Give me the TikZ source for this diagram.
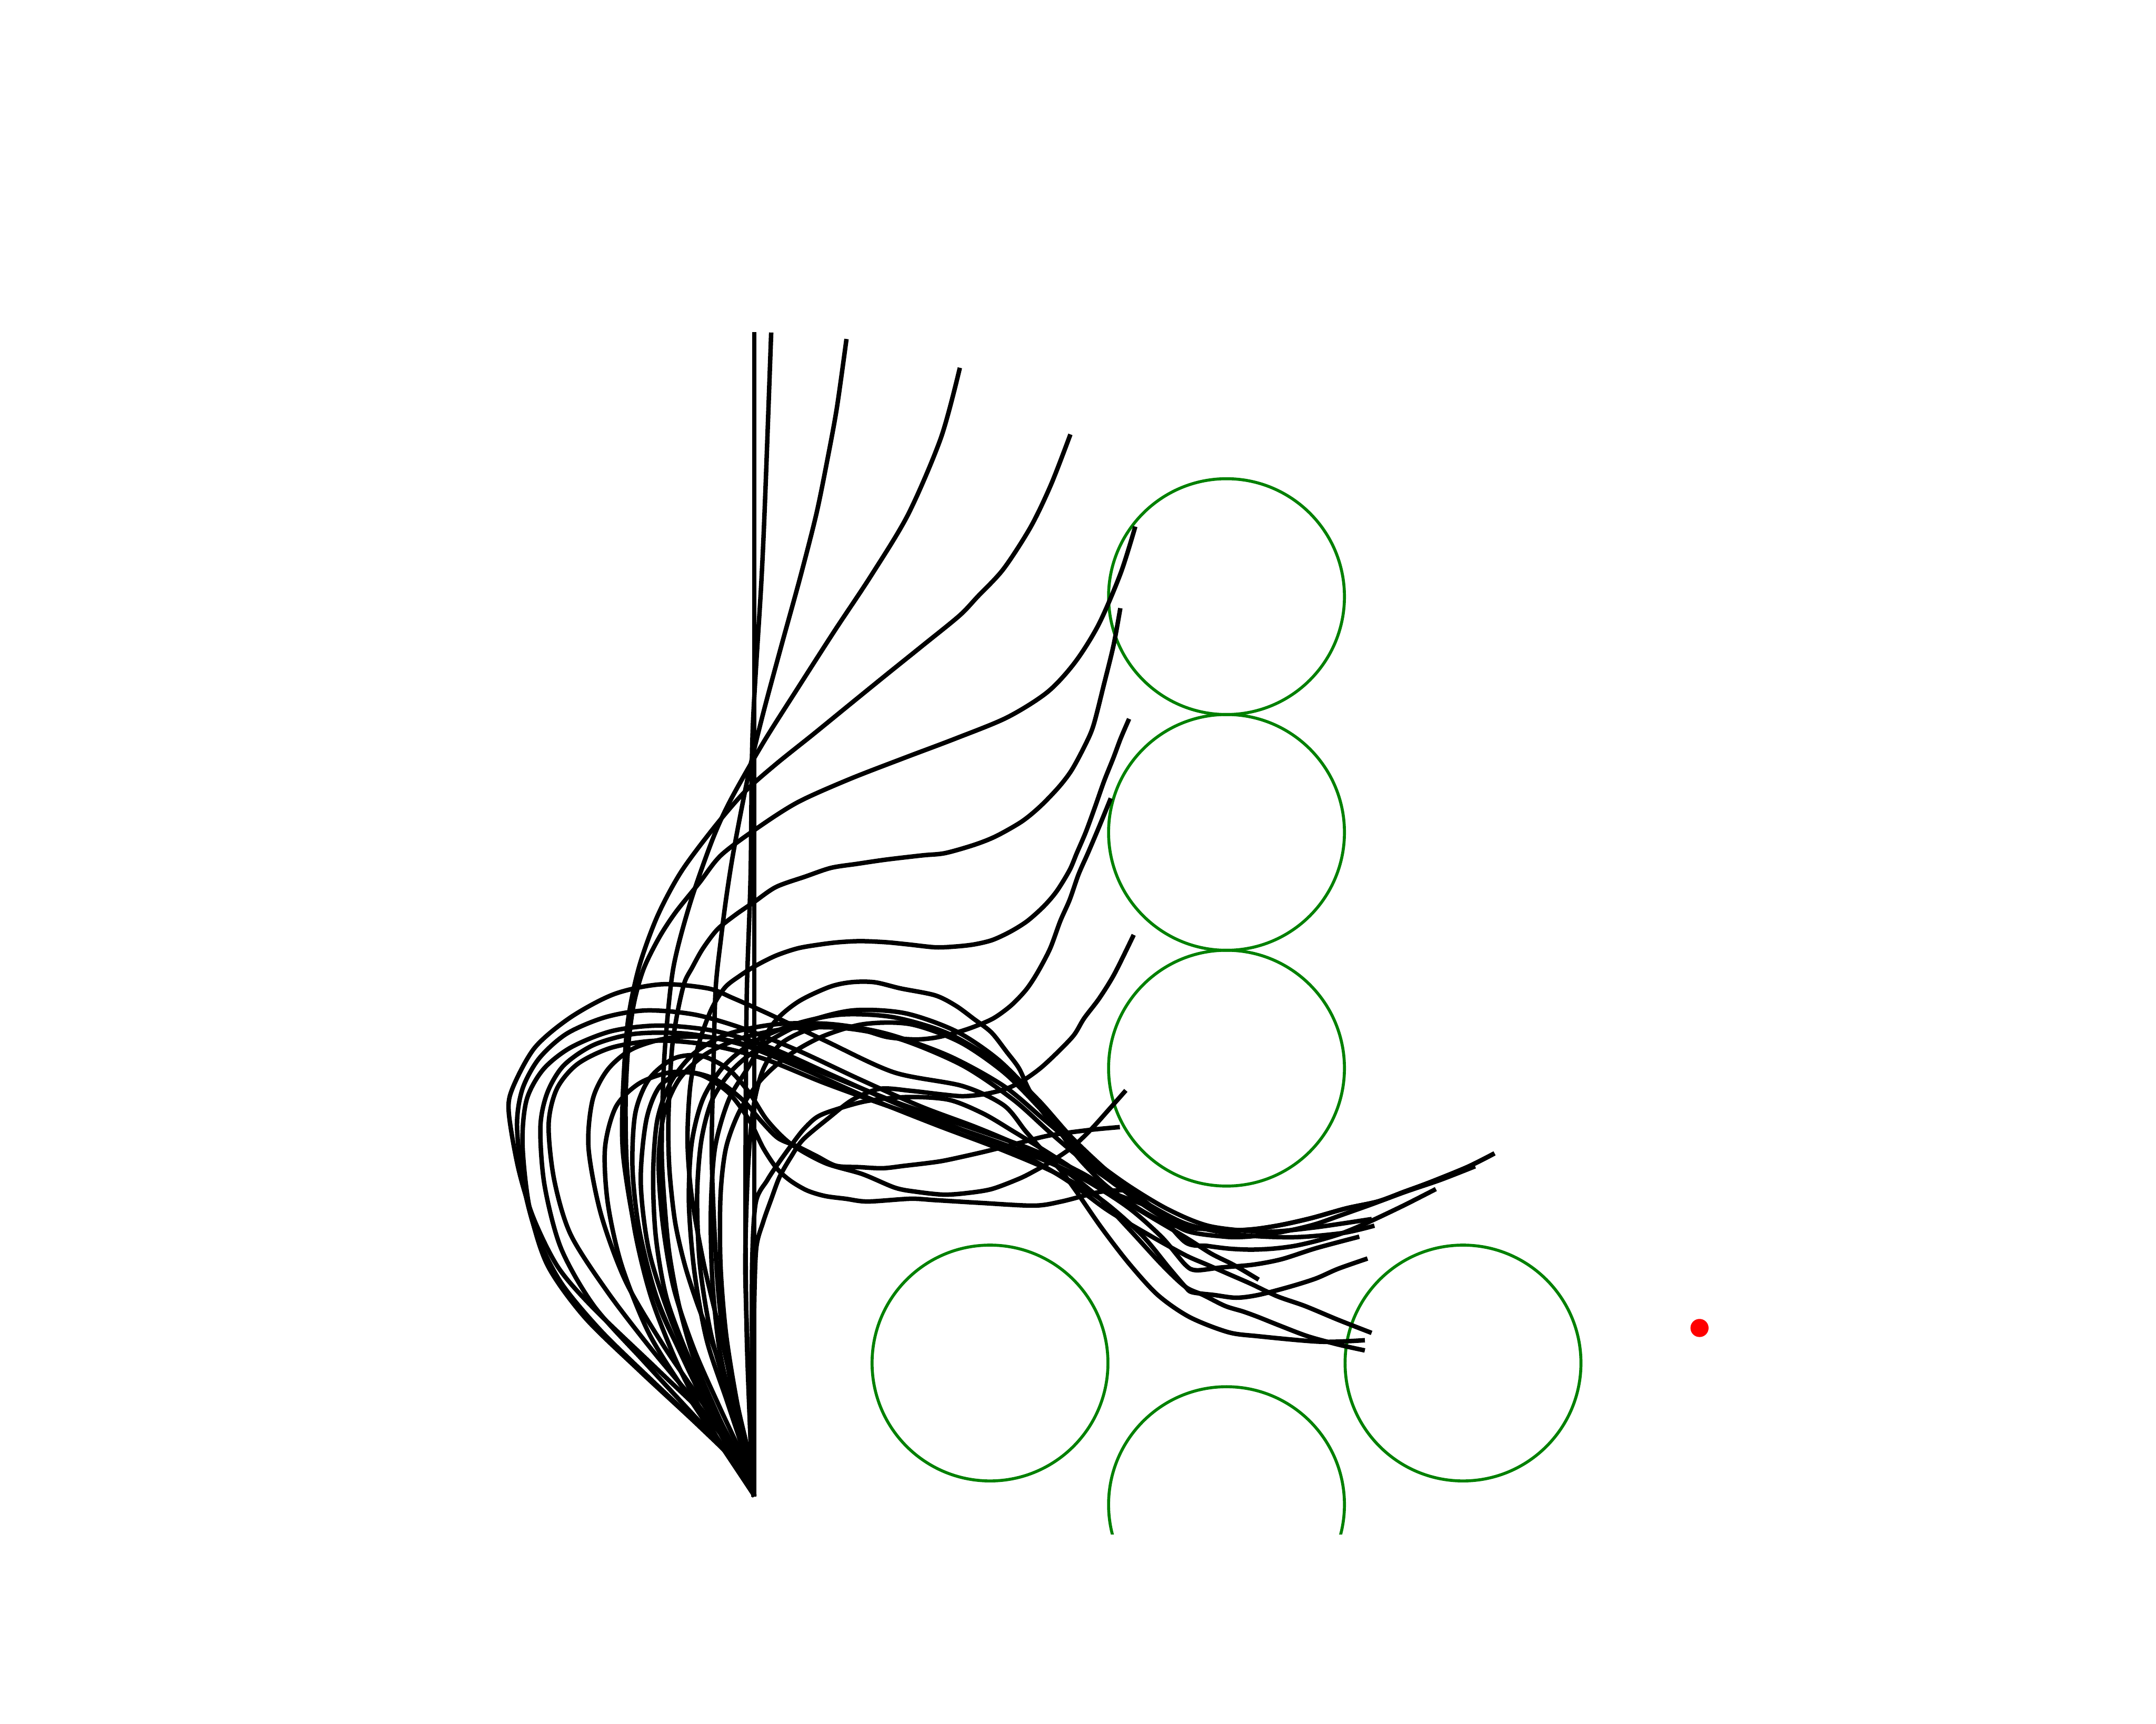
\documentclass[tikz,border=0pt]{standalone}
\usepackage{tikz}
\definecolor{mplgreen}{RGB}{0,128,0}
\definecolor{mplred}{RGB}{255,0,0}
\begin{document}
\begin{tikzpicture}[x=0.024298cm,y=-0.024298cm,
  traj/.style={draw=black,line width=2.25pt,line cap=rect,line join=round},
  obst/.style={draw=mplgreen,line width=1.5pt}]
\useasboundingbox[fill=white] (0,0) rectangle (1568,1254);
\begin{scope}
\clip (196,150.5) rectangle (1411,1116);
% obstacles
\foreach \cx/\cy in {892/434,892/605.5,892/777,720/991.5,1064/991.5,892/1094.5}
  \draw[obst] (\cx,\cy) circle[radius=2.0836cm];
% upper fan
\draw[traj] (548.6,243) -- (548.6,1087);
\draw[traj] plot[smooth] coordinates {(560.8,243.5) (556.6,358.5) (553.7,423.3) (547.4,531.2) (545.9,636.1) (543.2,718.6) (542.4,795.7) (542.2,899.2) (543.2,976.5) (546.4,1060) (548,1087)};
\draw[traj] plot[smooth] coordinates {(615.4,248.2) (608.6,296.8) (601.8,334) (593.7,373.9) (581.9,420.2) (568.3,469.6) (555,519) (544.6,562.1) (533.8,617.5) (528.4,651.4) (524.4,682.3) (520.5,718.6) (519,770) (517.6,837.2) (519.8,899.2) (523.4,950.6) (530.7,1002.4) (539.8,1054.1) (548,1087)};
\draw[traj] plot[smooth] coordinates {(697.7,269.1) (684.3,318.5) (660.6,373.9) (633.6,418.6) (607,458.8) (580.3,500.4) (555,540.4) (531.2,582.2) (517.9,611.4) (501.7,657.7) (489.7,704) (484,757) (482,795.6) (481.3,839.5) (483.1,873.2) (486.8,911.9) (494.1,950.8) (505.1,989.5) (521.6,1028.2) (538.1,1064.2) (548,1087)};
\draw[traj] plot[smooth] coordinates {(777.9,317.5) (764.5,352.2) (749.7,383.1) (729.8,413.9) (711,434) (697.7,447.9) (671,469.6) (644.4,491) (617.7,512.7) (591.1,534.4) (564.4,555.8) (541.7,575.9) (519.2,602.1) (495.2,634.4) (477.9,666.9) (464.6,704) (456.5,744.2) (452.8,800.9) (453.4,842.2) (463,899.2) (479.5,950.6) (494.1,981.7) (512.4,1015.4) (530.7,1048.9) (548,1087)};
\draw[traj] plot[smooth] coordinates {(825.2,384.6) (815,417) (799.1,454.1) (781.8,481.8) (761.7,503.5) (732.4,521.9) (695,537.2) (657.7,551.3) (617.7,566.8) (580.3,583.5) (551.1,602.1) (524.4,622.1) (508.5,642.3) (491.3,663.7) (479.2,682.3) (468,705) (461,730) (457,760) (455,800) (456,850) (462,897) (474,945) (494,995) (518,1040) (548,1087)};
% right-upper endings
\draw[traj] plot[smooth] coordinates {(814.5,444) (809.8,469.6) (803,497.3) (795.1,528.1) (788.4,543.5) (779.2,560.5) (769.8,572.8) (756.5,586.6) (743.1,597.6) (724.3,608.3) (708.4,614.6) (687.2,620.6) (671,622.2) (644.4,625.3) (623.2,628.4) (604.4,631.3) (585.8,637.6) (564.4,645.2) (548.5,656.1) (535.1,665.3) (521.8,676) (511.1,690.1) (503.3,704) (497.8,714.7) (493,735) (489,760) (487,790) (486,822) (487,853) (491,889) (498,920) (507,948) (518,977) (531,1015) (541.8,1059) (548,1087)};
\draw[traj] plot[smooth] coordinates {(820.5,524.4) (815,537.2) (809.8,551.1) (803,568.1) (796.5,586.6) (789.7,605.2) (783.1,620.6) (777.9,632.9) (768.5,648.3) (759.1,659.3) (747.1,670) (735,677.6) (721.7,683.8) (708.4,687) (695.1,688.5) (680.4,689.1) (660.6,687) (644.4,685.4) (625.8,684.6) (609.9,685.4) (596.6,687) (580.3,689.8) (564.4,695.1) (549.8,702.4) (537.8,710) (527,718.6) (517,735) (508,760) (502,790) (500,830) (503,870) (512,920) (525,975) (538,1035) (548,1087)};
\draw[traj] plot[smooth] coordinates {(807.2,582.2) (799.1,602) (791.2,620.6) (784.4,636) (777.9,654.6) (771.1,670) (763.7,690) (754.5,707.5) (746.2,720) (735.2,731.5) (722.4,740.8) (707.8,747.1) (694.9,751.3) (680.3,754.8) (665.6,756.1) (645.4,754.4) (627.1,749.2) (605,746) (585,750) (567,760) (555,778) (548,805) (544,850) (542,920) (544,990) (546,1050) (548,1087)};
\draw[traj] plot[smooth] coordinates {(823.8,681.5) (810.4,708.6) (799.4,726.3) (788.4,740.8) (781,753) (769,765.6) (756.8,776.9) (744.7,785.6) (732.6,791.7) (717.6,795.6) (700.8,797.4) (685,796.1) (662.6,793.5) (640,792) (620,800) (603,813) (584,829) (575,842) (567,856) (561,872) (555,889) (550,908) (548.5,950) (548,1000) (548,1087)};
% loops ending to the right
\draw[traj] plot[smooth] coordinates {(548,1087) (538,1064) (518,1035) (479,997) (432,952) (406,922) (388,886) (377,850) (370,809) (373,791) (389,762) (415,740) (447,723) (481,716) (515,719) (533,726) (560,738) (600,757) (650,780) (700,790) (730,804) (746,823) (761,840) (772,852) (783,867) (801,893) (821,919) (842,942) (865,958) (893,969) (915,972) (960,976) (991,975)};
\draw[traj] plot[smooth] coordinates {(548,1087) (537,1066) (512,1040) (475,1005) (437,968) (408,933) (390,897) (380,858) (376,818) (380,792) (392,770) (412,752) (440,740) (470,735) (505,738) (540,748) (580,764) (625,785) (670,805) (710,820) (745,835) (775,852) (800,872) (822,895) (845,920) (862,936) (875,942) (891,950) (904,954) (915,958) (930,964) (951,972) (973,978) (991,982)};
\draw[traj] plot[smooth] coordinates {(548,1087) (536,1065) (508,1037) (465,997) (425,958) (398,920) (385,878) (380,832) (383,800) (395,778) (415,762) (445,750) (480,746) (520,750) (560,762) (605,782) (650,802) (700,822) (740,838) (775,858) (805,880) (835,898) (862,913) (878,920) (894,927) (910,934) (929,943) (949,950) (973,960) (996,969)};
\draw[traj] plot[smooth] coordinates {(548,1087) (535,1062) (505,1030) (468,990) (432,950) (408,908) (396,862) (393,820) (398,795) (410,775) (432,760) (462,752) (500,752) (540,760) (585,778) (630,798) (680,818) (725,835) (765,852) (800,872) (830,898) (850,922) (862,936) (867,940) (883,942) (899,944) (915,942) (938,936) (957,930) (973,923) (993,916)};
\draw[traj] plot[smooth] coordinates {(548,1087) (536,1060) (510,1025) (475,983) (442,940) (415,898) (403,858) (399,818) (405,792) (420,774) (445,762) (478,757) (515,760) (555,770) (600,788) (650,806) (700,822) (745,838) (785,856) (820,878) (845,900) (862,920) (870,924) (888,922) (911,920) (932,916) (957,908) (987,900)};
\draw[traj] plot[smooth] coordinates {(548,1087) (537,1060) (512,1022) (482,978) (455,932) (437,883) (428,835) (431,800) (442,778) (460,763) (487,755) (520,755) (560,765) (605,783) (655,803) (705,820) (750,836) (790,855) (825,878) (862,900) (881,912) (897,920) (914,930)};
\draw[traj] plot[smooth] coordinates {(548,1087) (540,1065) (522,1030) (502,990) (485,945) (477,900) (475,855) (478,815) (488,787) (505,766) (530,752) (565,745) (605,745) (645,752) (690,768) (730,790) (760,815) (790,840) (820,862) (850,880) (880,892) (920,896) (955,893) (996,887)};
\draw[traj] plot[smooth] coordinates {(548,1087) (541,1062) (524,1025) (505,982) (490,937) (482,890) (479,845) (483,810) (494,785) (513,767) (540,755) (575,748) (615,748) (655,756) (700,775) (737,800) (765,825) (795,850) (825,870) (862,890) (900,898) (940,900) (976,897) (998,892)};
\draw[traj] plot[smooth] coordinates {(548,1087) (542,1060) (529,1020) (514,975) (505,925) (501,875) (503,832) (511,800) (526,776) (548,758) (578,745) (612,738) (650,740) (690,752) (728,775) (755,800) (780,828) (810,856) (840,880) (862,903.6) (878,906.3) (894,908.3) (909.8,909) (925.6,908.3) (941.5,906.3) (958.9,902.3) (976.3,897) (995.3,889) (1020.6,877) (1042.8,865.7)};
\draw[traj] plot[smooth] coordinates {(548,1087) (543,1060) (531,1020) (517,970) (509,920) (507,870) (510,830) (518,800) (533,778) (555,760) (585,744) (620,735) (658,737) (695,750) (725,770) (750,795) (772,822) (795,845) (820,868) (845,885) (862,891) (877,894) (896,895) (913,894) (932,891) (954,886) (979,879) (1002,874) (1021,867) (1040,860) (1067,849) (1085,840)};
\draw[traj] plot[smooth] coordinates {(548,1087) (544,1062) (533,1025) (523,980) (518,930) (517,880) (520,835) (530,800) (545,775) (562,745) (580,729) (603,718) (619,714.5) (636,714.5) (655,719) (680,724) (695,731.5) (708,741) (721,751) (732,765) (741,777) (748,792) (757,807) (772,825) (785,843) (805,863) (831,881) (849,890) (862,893) (876,894) (896,895) (913,894) (932,891) (954,886) (979,879) (1002,874) (1021,867) (1040,860) (1067,849) (1085.5,839.7)};
\draw[traj] plot[smooth] coordinates {(548,1087) (545,1060) (536,1020) (528,970) (524,920) (524,870) (528,835) (538,808) (553,786) (573,768) (598,754) (628,745) (662,745) (698,758) (730,780) (756,806) (780,833) (805,857) (835,878) (862,895) (891,899.6) (907,899.6) (924,897.6) (941.5,894.3) (957.3,890.3) (976.3,883.6) (996.9,876.3) (1022,867) (1047.5,858.3) (1071.3,849)};
% lower-middle curves
\draw[traj] plot[smooth] coordinates {(548,1087) (525,1045) (500,995) (478,945) (465,895) (460,850) (462,810) (472,785) (490,770) (510,768) (530,778) (545,795) (558,815) (575,832) (600,846) (627,854) (651,864) (667,867) (686,869) (702,868) (721,865) (741,857.5) (752,852) (766,844) (781,833.5) (794,821) (807,806.5) (817.7,794.4)};
\draw[traj] plot[smooth] coordinates {(548,1087) (532,1055) (510,1010) (488,960) (472,910) (466,860) (470,815) (480,790) (498,780) (520,785) (540,800) (554,816) (566,828) (580,834) (594,841) (608,848) (625,849) (642,849.8) (658,848) (675,846) (688,844) (715,838) (741,831.5) (763,826) (792,822) (812.8,820)};
\draw[traj] plot[smooth] coordinates {(548,1087) (530,1060) (500,1015) (472,970) (452,920) (442,875) (440,835) (448,805) (465,788) (488,780) (510,782) (530,795) (545,815) (555,835) (565,850) (575,859) (587,866) (600,870) (615,872) (631,874) (662,872) (680,873) (713,875) (752,877) (772,874) (800,867) (818.6,865.8)};
\draw[traj] plot[smooth] coordinates {(548,1087) (547,1000) (547,920) (549.6,875) (558,858.5) (565.5,847) (574.8,834) (584,822) (593.5,813) (605,808) (630,801) (660,798) (690,800) (715,810) (737,823) (755,834) (774,846) (792,858) (810,868) (831,876) (849.3,884.6)};
\end{scope}
\fill[mplred] (1236,966) circle[radius=0.16cm];
\end{tikzpicture}
\end{document}
